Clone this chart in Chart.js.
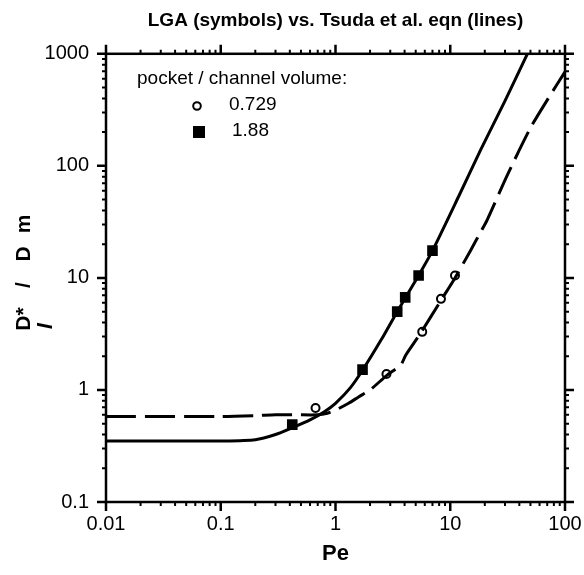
<!DOCTYPE html>
<html><head><meta charset="utf-8">
<script src="https://cdn.jsdelivr.net/npm/chart.js@4/dist/chart.umd.min.js"></script>
<style>html,body{margin:0;padding:0;background:#fff}#wrap{width:584px;height:575px}</style>
</head><body><div id="wrap"><canvas id="c" width="584" height="575"></canvas></div>
<script>
// ---- data ----
const xTickValues = [0.01, 0.1, 1, 10, 100];
const xTickLabels = ["0.01", "0.1", "1", "10", "100"];
const yTickValues = [0.1, 1, 10, 100, 1000];
const yTickLabels = ["0.1", "1", "10", "100", "1000"];

// LGA symbols
const lgaPe0729 = [0.67, 2.78, 5.7, 8.3, 11];
const lgaD0729  = [0.69, 1.39, 3.3, 6.5, 10.5];
const lgaPe188  = [0.42, 1.72, 3.45, 4.05, 5.3, 7.0];
const lgaD188   = [0.49, 1.52, 5.0, 6.7, 10.5, 17.5];

// Tsuda et al. equation lines
const tsudaPe188 = [0.01, 0.05, 0.1, 0.2, 0.3, 0.42, 0.6, 0.8, 1.0, 1.35, 1.72, 2.5, 3.45, 5.3, 7.0, 11.8, 18.4, 30, 47];
const tsudaD188  = [0.35, 0.35, 0.35, 0.36, 0.4, 0.46, 0.54, 0.64, 0.76, 1.05, 1.5, 2.8, 5.0, 10.5, 17.5, 53, 139, 380, 1000];
const tsudaPe0729 = [0.01, 0.1, 0.2, 0.3, 0.45, 0.7, 0.85, 1.0, 1.3, 1.6, 2.0, 2.8, 3.7, 4.1, 5.5, 8.3, 11, 15, 18.4, 21, 31.5, 50, 72, 100];
const tsudaD0729  = [0.58, 0.58, 0.59, 0.6, 0.6, 0.6, 0.62, 0.66, 0.76, 0.87, 1.0, 1.35, 1.67, 2.05, 3.2, 6.3, 10, 17.5, 25.7, 33, 83, 218, 405, 690];

const legendTitle = "pocket / channel volume:";
const legendLabels = ["0.729", "1.88"];

const pts = (xs, ys) => xs.map((x, i) => ({x, y: ys[i]}));

const FONT = "'Liberation Sans', Arial, Helvetica, sans-serif";

const decorations = {
  id: 'decorations',
  afterDraw(chart) {
    const ctx = chart.ctx;
    const a = chart.chartArea;
    const xs = chart.scales.x, ys = chart.scales.y;
    ctx.save();
    ctx.strokeStyle = '#000';
    ctx.lineCap = 'butt';
    const drawX = (v, len) => {
      const px = xs.getPixelForValue(v);
      ctx.beginPath();
      ctx.moveTo(px, a.bottom); ctx.lineTo(px, a.bottom + len);
      ctx.moveTo(px, a.top); ctx.lineTo(px, a.top - len);
      ctx.stroke();
    };
    const drawY = (v, len) => {
      const py = ys.getPixelForValue(v);
      ctx.beginPath();
      ctx.moveTo(a.left, py); ctx.lineTo(a.left - len, py);
      ctx.moveTo(a.right, py); ctx.lineTo(a.right + len, py);
      ctx.stroke();
    };
    ctx.lineWidth = 2;
    for (let k = -2; k <= 1; k++) for (let m = 2; m <= 9; m++) drawX(m * Math.pow(10, k), 4);
    for (let k = -1; k <= 2; k++) for (let m = 2; m <= 9; m++) drawY(m * Math.pow(10, k), 4);
    ctx.lineWidth = 2.5;
    xTickValues.forEach(v => drawX(v, 9));
    yTickValues.forEach(v => drawY(v, 9));
    ctx.lineWidth = 2.5;
    ctx.strokeRect(a.left, a.top, a.right - a.left, a.bottom - a.top);

    // legend
    ctx.fillStyle = '#000';
    ctx.font = "19px " + FONT;
    ctx.textBaseline = 'middle';
    ctx.textAlign = 'left';
    ctx.fillText(legendTitle, 137, 79);
    ctx.fillText(legendLabels[0], 229, 105);
    ctx.fillText(legendLabels[1], 232, 131);
    ctx.lineWidth = 2;
    ctx.beginPath(); ctx.arc(197, 106, 3.8, 0, Math.PI * 2); ctx.stroke();
    ctx.fillRect(193, 126, 12, 12);

    // y axis title  D*_l / D_m
    ctx.translate(24, 273);
    ctx.rotate(-Math.PI / 2);
    ctx.font = "bold 21px " + FONT;
    ctx.textAlign = 'center';
    ctx.textBaseline = 'middle';
    ctx.fillText("D*", -46, 0);
    ctx.fillText("/", -12, 0);
    ctx.fillText("D", 19, 0);
    ctx.fillText("m", 49, 0);
    ctx.font = "italic bold 21px " + FONT;
    ctx.fillText("l", -53, 22);
    ctx.restore();
  }
};

new Chart(document.getElementById('c'), {
  type: 'scatter',
  data: {
    datasets: [
      { label: 'Tsuda 1.88', type: 'line', data: pts(tsudaPe188, tsudaD188),
        borderColor: '#000', borderWidth: 3, pointRadius: 0, tension: 0.25, fill: false },
      { label: 'Tsuda 0.729', type: 'line', data: pts(tsudaPe0729, tsudaD0729),
        borderColor: '#000', borderWidth: 3, borderDash: [30, 9], pointRadius: 0, tension: 0.25, fill: false },
      { label: legendLabels[0], data: pts(lgaPe0729, lgaD0729), pointStyle: 'circle',
        pointRadius: 4, borderWidth: 2, borderColor: '#000', backgroundColor: '#fff' },
      { label: legendLabels[1], data: pts(lgaPe188, lgaD188), pointStyle: 'rect',
        pointRadius: 7.5, borderWidth: 0, borderColor: '#000', backgroundColor: '#000' }
    ]
  },
  options: {
    responsive: false,
    animation: false,
    layout: { padding: { left: 0, right: 19, top: 0, bottom: 0 } },
    plugins: {
      legend: { display: false },
      tooltip: { enabled: false },
      title: {
        display: true, fullSize: false,
        text: 'LGA (symbols) vs. Tsuda et al. eqn (lines)',
        color: '#000',
        font: { family: FONT, size: 19, weight: 'bold', lineHeight: 1.2 },
        padding: { top: 9, bottom: 22 }
      }
    },
    scales: {
      x: {
        type: 'logarithmic', min: 0.01, max: 100,
        afterBuildTicks: s => { s.ticks = xTickValues.map(v => ({value: v})); },
        afterFit: s => { s.height = 73; s.paddingLeft = 0; s.paddingRight = 0; },
        grid: { display: false, drawOnChartArea: false },
        border: { display: false },
        ticks: {
          color: '#000', font: { family: FONT, size: 20 }, padding: 2, maxRotation: 0,
          callback: (v) => { const i = xTickValues.findIndex(t => Math.abs(t - v) / t < 1e-6); return i >= 0 ? xTickLabels[i] : ''; }
        },
        title: { display: true, text: 'Pe', color: '#000', font: { family: FONT, size: 22, weight: 'bold' }, padding: { top: 0, bottom: 8 } }
      },
      y: {
        type: 'logarithmic', min: 0.1, max: 1000,
        afterBuildTicks: s => { s.ticks = yTickValues.map(v => ({value: v})); },
        afterFit: s => { s.width = 106; s.paddingTop = 0; s.paddingBottom = 0; },
        grid: { display: false, drawOnChartArea: false },
        border: { display: false },
        ticks: {
          color: '#000', font: { family: FONT, size: 20 }, padding: 9,
          callback: (v) => { const i = yTickValues.findIndex(t => Math.abs(t - v) / t < 1e-6); return i >= 0 ? yTickLabels[i] : ''; }
        },
        title: { display: false }
      }
    }
  },
  plugins: [decorations]
});
</script>
</body></html>
